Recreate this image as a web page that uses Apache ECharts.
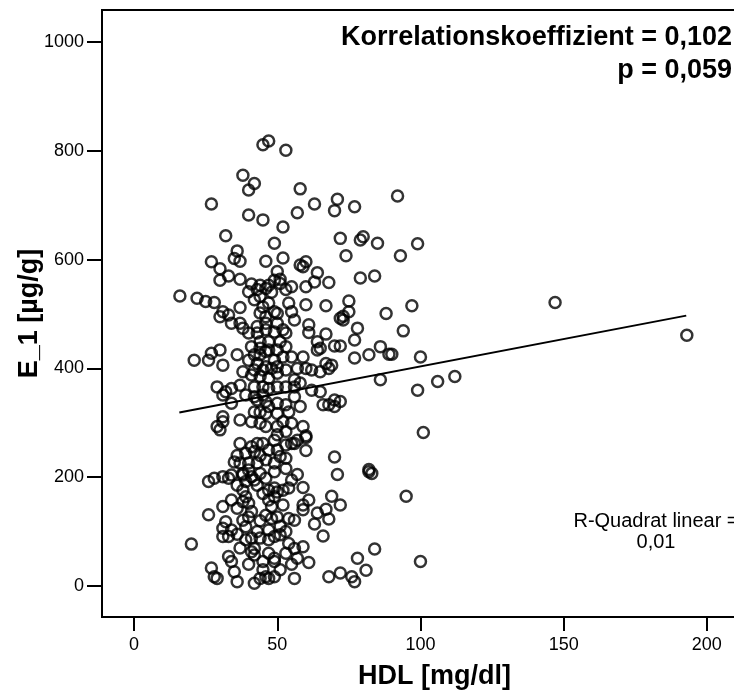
<!DOCTYPE html>
<html>
<head>
<meta charset="utf-8">
<script src="https://cdn.jsdelivr.net/npm/echarts@6/dist/echarts.min.js"></script>
<style>
  html, body { margin: 0; padding: 0; background: #fff; }
  #chart { width: 734px; height: 691px; }
</style>
</head>
<body>
<div id="chart"></div>
<script>
// HDL [mg/dl] of each subject
const hdl = [
  45,47,53,38,42,40,58,27,40,45,57,52,32,49,36,35,37,27,30,30,33,37,46,52,58,59,50,49,51,
  63,71,70,77,92,72,79,80,85,74,93,99,60,64,63,68,60,79,84,
  60,67,75,75,73,73,72,88,97,61,61,67,78,94,77,64,65,64,70,72,59,77,82,86,89,90,100,
  60,62,65,68,69,67,56,58,62,65,66,68,70,70,72,86,99,106,112,59,60,101,
  147,193,
  60,56,60,70,71,82,83,82,95,59,69,72,61,59,59,64,67,68,63,56,66,59,56,57,61,56,84,78,81,72,68,76,77,100,
  16,22,25,28,31,30,33,37,40,42,44,45,47,49,47,51,54,55,56,37,38,34,40,43,46,50,44,47,51,53,
  21,27,30,26,31,36,41,44,47,50,53,40,43,46,49,52,55,38,41,44,47,50,53,57,
  29,32,34,37,31,42,45,47,50,53,56,34,43,46,50,53,47,31,31,29,41,44,46,50,52,55,44,46,55,
  30,37,41,43,45,49,50,53,55,57,39,42,47,50,53,37,40,43,40,38,49,53,49,
  26,28,31,33,34,38,41,39,42,38,39,38,47,49,50,52,49,47,54,34,31,36,40,41,48,52,50,48,54,
  26,32,31,34,31,33,38,40,39,20,39,41,44,47,49,51,47,54,41,42,42,33,34,47,49,49,45,
  27,28,29,35,36,42,44,46,47,49,
  44,46,50,43,46,49,52,42,44,46,39,42,45,42,45,48,50,37,42,44,46,50,54,56,58,
  44,46,51,44,46,36,43,45,55,57,53,36,35,
  44,46,43,51,53,36,37,40,45,51,53,55,
  43,48,41,53
];
// E_1 [µg/g] of each subject, same order
const e1 = [
  811,818,801,755,740,728,730,702,682,673,686,660,644,630,616,602,597,596,583,562,570,564,597,603,590,587,578,562,564,
  702,711,690,697,717,639,636,642,630,607,607,629,596,576,559,558,550,566,570,
  517,515,524,504,496,489,492,501,515,480,466,463,474,469,452,449,437,434,441,441,421,419,425,440,426,426,421,
  400,397,394,400,406,409,379,373,360,357,333,333,342,330,339,379,360,376,385,293,276,282,
  521,461,
  273,262,249,237,205,214,207,210,165,181,165,149,158,149,140,134,141,123,114,121,92,72,69,51,43,14,68,51,29,24,17,17,8,45,
  533,529,523,521,504,495,498,512,541,526,532,513,520,504,553,556,520,504,489,483,474,483,465,465,483,483,449,449,449,465,
  415,428,434,415,406,425,440,437,434,434,440,415,409,403,415,421,421,394,388,385,382,391,397,400,
  366,357,363,369,351,366,366,363,366,366,366,336,342,339,336,333,330,311,302,293,302,299,293,293,302,299,553,547,550,
  287,262,256,262,262,268,278,284,262,268,244,247,250,250,259,226,226,226,213,207,226,216,210,
  192,198,201,198,204,204,201,192,195,176,164,155,176,180,173,176,164,158,180,158,146,143,152,137,146,149,127,124,124,
  131,118,106,103,91,91,121,127,109,77,85,88,88,85,91,94,103,78,63,57,69,54,45,60,51,45,45,
  33,17,14,26,8,5,14,17,14,17,
  502,495,501,477,471,467,471,425,425,431,351,348,351,397,397,400,403,305,320,320,317,317,320,348,330,
  240,232,238,207,198,185,185,170,195,205,235,240,228,
  120,130,100,110,100,95,70,40,30,30,60,40,
  545,540,555,545
];
// Linear fit drawn across the HDL range
const fitHdl = [15.8, 192.8];
const fitE1 = [319, 497];

const xTicks = [0, 50, 100, 150, 200];
const yTicks = [0, 200, 400, 600, 800, 1000];

const corrText = 'Korrelationskoeffizient = 0,102\np = 0,059';
const rsqText = 'R-Quadrat linear =\n0,01';

const FONT = '"Liberation Sans", Arial, Helvetica, sans-serif';

const points = hdl.map((h, i) => [h, e1[i]]);
const fitLine = fitHdl.map((h, i) => [h, fitE1[i]]);

const chart = echarts.init(document.getElementById('chart'), null, { renderer: 'canvas' });

chart.setOption({
  animation: false,
  backgroundColor: '#fff',
  grid: {
    left: 102, top: 10, right: -33, bottom: 74,
    containLabel: false, outerBoundsMode: 'none',
    show: true, borderColor: '#000', borderWidth: 2, backgroundColor: 'transparent'
  },
  xAxis: {
    type: 'value', min: -11.2, max: 221,
    axisLine: { show: true, onZero: false, lineStyle: { color: '#000', width: 2 } },
    splitLine: { show: false },
    axisTick: { show: true, customValues: xTicks, length: 14, lineStyle: { color: '#000', width: 2 } },
    axisLabel: { customValues: xTicks, margin: 19, fontSize: 18, color: '#000', fontFamily: FONT,
      formatter: v => String(v) },
    name: 'HDL [mg/dl]', nameLocation: 'middle', nameGap: 46, nameMoveOverlap: false,
    nameTextStyle: { fontSize: 27, fontWeight: 'bold', color: '#000', fontFamily: FONT }
  },
  yAxis: {
    type: 'value', min: -57, max: 1058.8,
    axisLine: { show: true, onZero: false, lineStyle: { color: '#000', width: 2 } },
    splitLine: { show: false },
    axisTick: { show: true, customValues: yTicks, length: 15, lineStyle: { color: '#000', width: 2 } },
    axisLabel: { customValues: yTicks, margin: 18, fontSize: 18, color: '#000', fontFamily: FONT,
      formatter: v => String(v) },
    name: 'E_1 [µg/g]', nameLocation: 'middle', nameGap: 59, nameRotate: 90, nameMoveOverlap: false,
    nameTextStyle: { fontSize: 27, fontWeight: 'bold', color: '#000', fontFamily: FONT }
  },
  series: [
    {
      type: 'scatter',
      data: points,
      symbol: 'circle',
      symbolSize: 11,
      itemStyle: { color: 'rgba(0,0,0,0)', borderColor: '#000', borderWidth: 2.5 },
      emphasis: { disabled: true },
      z: 3
    },
    {
      type: 'line',
      data: fitLine,
      symbol: 'none',
      lineStyle: { color: '#000', width: 2 },
      emphasis: { disabled: true },
      z: 4
    }
  ],
  graphic: [
    {
      type: 'text', x: 732, y: 54, z: 10,
      style: {
        text: corrText, fill: '#000',
        font: 'bold 27px ' + FONT, fontSize: 27, fontWeight: 'bold', fontFamily: FONT,
        lineHeight: 33,
        align: 'right', textAlign: 'right', verticalAlign: 'middle', textVerticalAlign: 'middle'
      }
    },
    {
      type: 'text', x: 656, y: 532.2, z: 10,
      style: {
        text: rsqText, fill: '#000',
        font: '20px ' + FONT, fontSize: 20, fontFamily: FONT,
        lineHeight: 21,
        align: 'center', textAlign: 'center', verticalAlign: 'middle', textVerticalAlign: 'middle'
      }
    }
  ]
});
</script>
</body>
</html>
